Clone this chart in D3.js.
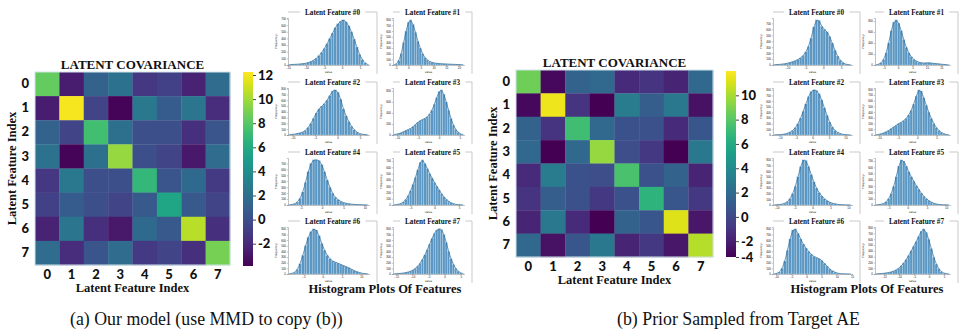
<!DOCTYPE html>
<html>
<head>
<meta charset="utf-8">
<script src="https://cdn.jsdelivr.net/npm/d3@7"></script>
<style>
  body { margin: 0; background: #fff; }
  svg text { fill: #111; }
  .serif { font-family: "Liberation Serif", "Times New Roman", serif; }
  .tick-sans text { font-family: Lato, "DejaVu Sans", sans-serif; font-weight: 900; }
</style>
</head>
<body>
<div id="chart"></div>
<script>
// ---- data ----
const featureIdx = [0, 1, 2, 3, 4, 5, 6, 7];

// (a) our model covariance
const covOurs = [
  [8.4, -2.6, 1.2, 2.2, -1.3, -0.8, -2.3, 1.8],
  [-2.6, 12.0, -0.6, -3.7, 2.6, 0.8, 2.4, -1.8],
  [1.2, -0.6, 7.4, 2.0, 0.0, 0.0, -1.6, 0.4],
  [2.2, -3.7, 2.0, 9.7, 0.0, -0.6, -2.8, 1.8],
  [-1.3, 2.6, 0.0, 0.0, 6.9, 0.4, 1.6, -1.2],
  [-0.8, 0.8, 0.0, -0.6, 0.6, 5.7, 0.6, -0.6],
  [-2.3, 2.4, -1.6, -2.8, 1.6, 0.6, 10.5, -1.6],
  [1.8, -1.8, 0.4, 1.8, -1.2, -0.6, -1.6, 8.9]
];
// (b) prior sampled from target AE
const covPrior = [
  [8.6, -3.0, 1.5, 1.8, -1.5, -1.0, -1.8, 1.8],
  [-3.0, 11.6, -1.0, -3.8, 3.0, 1.2, 2.8, -2.6],
  [1.5, -1.0, 7.3, 1.8, 0.5, 0.5, -1.5, 0.8],
  [1.8, -3.8, 1.8, 9.6, 0.3, -0.8, -3.4, 2.8],
  [-1.5, 3.0, 0.5, 0.3, 7.6, 0.5, 1.5, -1.8],
  [-1.0, 1.2, 0.5, -0.8, 0.5, 6.6, 0.8, -0.8],
  [-1.8, 2.8, -1.5, -3.4, 1.5, 0.8, 11.2, -2.4],
  [1.8, -2.6, 0.8, 2.8, -1.8, -0.8, -2.4, 10.3]
];
const cbDomainOurs = [-3.85, 12.25];
const cbTicksOurs = [12, 10, 8, 6, 4, 2, 0, -2];
const cbDomainPrior = [-3.3, 12];
const cbTicksPrior = [10, 8, 6, 4, 2, 0, -2, -4];

// histogram bin counts, 30 bins per feature
const histOurs = [
  [5, 8, 10, 12, 15, 20, 25, 35, 50, 70, 100, 140, 190, 250, 320, 400, 480, 560, 620, 660, 680, 650, 590, 500, 390, 270, 160, 80, 30, 10],
  [5, 20, 80, 200, 400, 600, 760, 800, 720, 580, 420, 300, 200, 130, 90, 60, 45, 35, 30, 25, 22, 20, 18, 16, 14, 12, 10, 8, 6, 5],
  [5, 10, 15, 25, 35, 50, 80, 130, 200, 290, 380, 450, 500, 540, 600, 680, 760, 780, 740, 620, 450, 330, 230, 150, 90, 50, 25, 12, 6, 3],
  [10, 15, 25, 40, 60, 80, 100, 120, 150, 190, 230, 260, 280, 300, 330, 380, 450, 560, 680, 790, 820, 740, 600, 450, 300, 180, 100, 50, 20, 8],
  [3, 8, 20, 50, 110, 220, 380, 560, 700, 760, 760, 750, 680, 560, 420, 300, 200, 130, 90, 60, 40, 28, 20, 14, 10, 7, 5, 3, 2, 1],
  [3, 6, 12, 25, 50, 90, 150, 230, 330, 440, 560, 680, 720, 660, 580, 500, 430, 360, 300, 240, 180, 130, 90, 60, 35, 20, 10, 5, 3, 1],
  [3, 10, 30, 80, 180, 330, 500, 650, 750, 800, 780, 680, 540, 420, 330, 270, 230, 210, 190, 170, 150, 130, 110, 85, 60, 40, 25, 12, 6, 3],
  [3, 5, 8, 12, 18, 25, 35, 50, 70, 100, 140, 190, 260, 340, 430, 530, 630, 720, 780, 800, 790, 700, 560, 400, 270, 170, 100, 50, 20, 8]
];
const histOursRange = [[-15, 7.5], [-6, 22], [-11, 7], [-11, 6], [-8, 11], [-8.5, 6], [-9, 12], [-16, 6]];

const histPrior = [
  [5, 8, 10, 15, 20, 30, 40, 55, 70, 90, 120, 160, 220, 310, 450, 640, 760, 750, 650, 600, 560, 480, 370, 250, 150, 80, 40, 15, 6, 2],
  [5, 15, 40, 100, 220, 400, 620, 780, 820, 760, 620, 460, 320, 220, 150, 100, 70, 50, 40, 35, 38, 40, 36, 30, 25, 20, 15, 10, 6, 3],
  [2, 4, 6, 10, 18, 30, 50, 80, 130, 200, 300, 420, 550, 680, 770, 800, 790, 730, 620, 480, 350, 230, 140, 80, 45, 25, 12, 6, 3, 1],
  [5, 10, 20, 35, 55, 80, 110, 140, 170, 200, 220, 250, 290, 350, 430, 540, 680, 790, 770, 650, 520, 400, 290, 200, 130, 80, 45, 20, 8, 3],
  [2, 4, 8, 15, 30, 60, 110, 200, 330, 500, 680, 800, 790, 680, 540, 410, 300, 220, 160, 110, 75, 50, 32, 20, 12, 7, 4, 2, 1, 1],
  [3, 6, 12, 25, 50, 100, 180, 300, 450, 620, 720, 700, 620, 530, 450, 380, 310, 250, 190, 140, 100, 70, 45, 28, 16, 9, 5, 3, 2, 1],
  [3, 10, 35, 100, 230, 420, 620, 780, 800, 720, 620, 530, 460, 400, 350, 310, 290, 270, 240, 190, 140, 90, 55, 30, 15, 7, 3, 2, 1, 1],
  [3, 5, 8, 12, 18, 25, 35, 50, 70, 100, 140, 190, 250, 320, 400, 480, 560, 650, 740, 780, 720, 600, 440, 290, 170, 90, 40, 15, 5, 2]
];
const histPriorRange = [[-14, 8], [-8, 18], [-12, 12], [-11, 8.5], [-11, 11], [-8.5, 11], [-11, 15], [-18, 7]];

const captions = ["(a) Our model (use MMD to copy (b))", "(b) Prior Sampled from Target AE"];

// ---- drawing ----
const width = 959, height = 331;
const svg = d3.select("#chart").append("svg")
  .attr("width", width).attr("height", height);

const defs = svg.append("defs");
const plainNum = d => String(d);

function drawHeatmap(cfg) {
  const g = svg.append("g");
  const x = d3.scaleBand().domain(featureIdx).range([cfg.x0, cfg.x1]);
  const y = d3.scaleBand().domain(featureIdx).range([cfg.y0, cfg.y1]);
  const color = d3.scaleSequential(d3.interpolateViridis).domain(cfg.domain).clamp(true);

  cfg.data.forEach((row, i) => {
    g.selectAll(null).data(row).enter().append("rect")
      .attr("x", (d, j) => x(featureIdx[j]))
      .attr("y", y(featureIdx[i]))
      .attr("width", x.bandwidth() + 0.3)
      .attr("height", y.bandwidth() + 0.3)
      .attr("fill", d => color(d));
  });
  g.append("rect")
    .attr("x", cfg.x0).attr("y", cfg.y0)
    .attr("width", cfg.x1 - cfg.x0).attr("height", cfg.y1 - cfg.y0)
    .attr("fill", "none").attr("stroke", "#cfe3ea").attr("stroke-width", 1);

  const ax = g.append("g").attr("class", "tick-sans")
    .attr("transform", "translate(0," + cfg.y1 + ")")
    .call(d3.axisBottom(x).tickSize(0).tickPadding(5));
  const ay = g.append("g").attr("class", "tick-sans")
    .attr("transform", "translate(" + cfg.x0 + ",0)")
    .call(d3.axisLeft(y).tickSize(0).tickPadding(6));
  [ax, ay].forEach(a => {
    a.select(".domain").remove();
    a.selectAll("text").attr("font-size", 13).attr("fill", "#111");
  });

  g.append("text").attr("class", "serif")
    .attr("x", (cfg.x0 + cfg.x1) / 2).attr("y", cfg.y0 - 3)
    .attr("text-anchor", "middle").attr("font-weight", "bold").attr("font-size", 13)
    .text("LATENT COVARIANCE");
  g.append("text").attr("class", "serif")
    .attr("x", (cfg.x0 + cfg.x1) / 2).attr("y", cfg.y1 + 27)
    .attr("text-anchor", "middle").attr("font-weight", "bold").attr("font-size", 12.5)
    .text("Latent Feature Index");
  g.append("text").attr("class", "serif")
    .attr("transform", "translate(" + (cfg.x0 - 19) + "," + ((cfg.y0 + cfg.y1) / 2) + ") rotate(-90)")
    .attr("text-anchor", "middle").attr("font-weight", "bold").attr("font-size", 12.5)
    .text("Latent Feature Index");

  // colorbar
  const cb = d3.scaleLinear().domain(cfg.domain).range([cfg.cbY1, cfg.cbY0]).clamp(true);
  const grad = defs.append("linearGradient").attr("id", cfg.id)
    .attr("x1", 0).attr("x2", 0).attr("y1", 1).attr("y2", 0);
  d3.range(0, 1.0001, 0.05).forEach(t => {
    grad.append("stop").attr("offset", t).attr("stop-color", d3.interpolateViridis(t));
  });
  g.append("rect")
    .attr("x", cfg.cbX).attr("y", cfg.cbY0)
    .attr("width", cfg.cbW).attr("height", cfg.cbY1 - cfg.cbY0)
    .attr("fill", "url(#" + cfg.id + ")");
  const ac = g.append("g").attr("class", "tick-sans")
    .attr("transform", "translate(" + (cfg.cbX + cfg.cbW) + ",0)")
    .call(d3.axisRight(cb).tickValues(cfg.ticks).tickFormat(plainNum).tickSize(3).tickPadding(2));
  ac.select(".domain").remove();
  ac.selectAll("line").attr("stroke", "#444");
  ac.selectAll("text").attr("font-size", 13).attr("fill", "#111");
}

drawHeatmap({ id: "cbA", data: covOurs, domain: cbDomainOurs, ticks: cbTicksOurs,
  x0: 35, x1: 230, y0: 72, y1: 265, cbX: 243, cbW: 10, cbY0: 72, cbY1: 266 });
drawHeatmap({ id: "cbB", data: covPrior, domain: cbDomainPrior, ticks: cbTicksPrior,
  x0: 516, x1: 713, y0: 70, y1: 257, cbX: 726, cbW: 10, cbY0: 71, cbY1: 257 });

// histogram grids
const rowTitleY = [12, 82, 152, 221];

function drawHistPanel(bins, range, axisX, frameRight, titleY, k) {
  const g = svg.append("g");
  const pw = frameRight - axisX - 8, top = titleY + 6, bottom = titleY + 53;
  const x = d3.scaleLinear().domain(range).range([axisX, axisX + pw]);
  const xb = d3.scaleLinear().domain([0, bins.length]).range([axisX, axisX + pw]);
  const y = d3.scaleLinear().domain([0, d3.max(bins) * 1.04]).range([bottom, top]);

  // frame
  g.append("path")
    .attr("d", "M" + axisX + "," + titleY + "H" + frameRight + "V" + (titleY + 62))
    .attr("fill", "none").attr("stroke", "#c9c9c9").attr("stroke-width", 1);

  g.selectAll(null).data(bins).enter().append("rect")
    .attr("x", (d, i) => xb(i))
    .attr("y", d => y(d))
    .attr("width", xb(1) - xb(0))
    .attr("height", d => bottom - y(d))
    .attr("fill", "#5b97c2")
    .attr("stroke", "#d6e6f1").attr("stroke-width", 0.25);

  g.append("path")
    .datum(bins)
    .attr("d", d3.line().x((d, i) => xb(i + 0.5)).y(d => y(d)).curve(d3.curveBasis))
    .attr("fill", "none").attr("stroke", "#2b6a99").attr("stroke-width", 0.7);

  const axb = g.append("g").attr("transform", "translate(0," + bottom + ")")
    .call(d3.axisBottom(x).ticks(4).tickSize(1).tickPadding(0.6));
  const axl = g.append("g").attr("transform", "translate(" + axisX + ",0)")
    .call(d3.axisLeft(y).ticks(6).tickSize(1.2).tickPadding(1));
  [axb, axl].forEach(a => {
    a.selectAll("text").attr("font-size", 2.8).attr("fill", "#444");
    a.selectAll("line,.domain").attr("stroke", "#666").attr("stroke-width", 0.4);
  });

  g.append("text").attr("x", axisX + pw / 2).attr("y", bottom + 7.5)
    .attr("text-anchor", "middle").attr("font-size", 2.8).attr("fill", "#444")
    .attr("font-family", "DejaVu Sans").text("value");
  g.append("text")
    .attr("transform", "translate(" + (axisX - 11) + "," + ((top + bottom) / 2) + ") rotate(-90)")
    .attr("text-anchor", "middle").attr("font-size", 2.8).attr("fill", "#444")
    .attr("font-family", "DejaVu Sans").text("Frequency");

  // title sitting on the frame line
  const tg = g.append("g");
  const bg = tg.append("rect").attr("fill", "#fff");
  const t = tg.append("text").attr("class", "serif")
    .attr("x", (axisX + frameRight) / 2).attr("y", titleY + 2.5)
    .attr("text-anchor", "middle").attr("font-weight", "bold").attr("font-size", 7.2)
    .text("Latent Feature #" + k);
  const bb = t.node().getBBox();
  bg.attr("x", bb.x - 5).attr("y", bb.y).attr("width", bb.width + 10).attr("height", bb.height);
}

function drawHistGrid(hists, ranges, axisXs, frameRights, labelX) {
  hists.forEach((bins, k) => {
    const c = k % 2, r = Math.floor(k / 2);
    drawHistPanel(bins, ranges[k], axisXs[c], frameRights[c], rowTitleY[r], k);
  });
  svg.append("text").attr("class", "serif")
    .attr("x", labelX).attr("y", 293)
    .attr("text-anchor", "middle").attr("font-weight", "bold").attr("font-size", 12.5)
    .text("Histogram Plots Of Features");
}

drawHistGrid(histOurs, histOursRange, [288, 393], [377, 472], 385);
drawHistGrid(histPrior, histPriorRange, [773, 875], [860, 958], 867);

// captions: same condensed look for both
const capB = svg.append("text").attr("class", "serif")
  .attr("x", 617).attr("y", 325).attr("font-size", 19)
  .text(captions[1]);
const squeeze = 243 / capB.node().getComputedTextLength();
capB.attr("textLength", 243).attr("lengthAdjust", "spacingAndGlyphs");
const capA = svg.append("text").attr("class", "serif")
  .attr("x", 70).attr("y", 325).attr("font-size", 19)
  .text(captions[0]);
capA.attr("textLength", capA.node().getComputedTextLength() * squeeze)
  .attr("lengthAdjust", "spacingAndGlyphs");
</script>
</body>
</html>
